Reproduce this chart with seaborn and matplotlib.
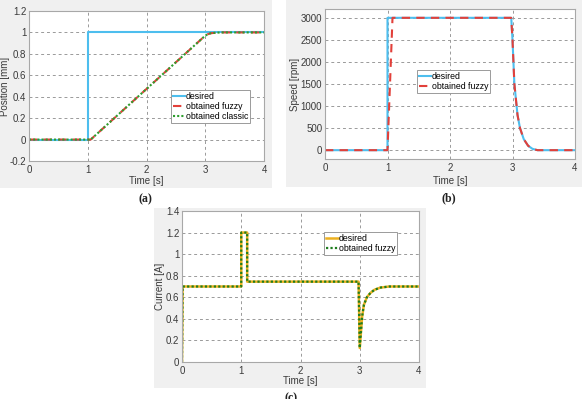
import matplotlib.pyplot as plt
from matplotlib.patches import Rectangle
import pandas as pd
import seaborn as sns

# panel (a) position
pos_t_desired = [0, 1.0, 1.0, 4.0]
pos_desired = [0, 0, 1, 1]
pos_t_obt = [0, 1.05, 3.0, 3.05, 3.1, 3.2, 3.3, 4.0]
pos_fuzzy = [0, 0, 0.97, 0.985, 0.993, 0.998, 1.0, 1.0]
pos_classic = [0, 0, 0.97, 0.985, 0.993, 0.998, 1.0, 1.0]

# panel (b) speed
spd_t_desired = [0, 1.0, 1.0, 2.98, 3.0, 3.03, 3.08, 3.12, 3.18, 3.25, 3.32, 3.4, 4.0]
spd_desired = [0, 0, 3000, 3000, 2500, 1500, 800, 500, 250, 100, 30, 0, 0]
spd_t_fuzzy = [0, 1.0, 1.08, 2.98, 3.0, 3.03, 3.08, 3.12, 3.18, 3.25, 3.32, 3.4, 4.0]
spd_fuzzy = [0, 0, 3000, 3000, 2500, 1500, 800, 500, 250, 100, 30, 0, 0]

# panel (c) current
cur_t = [0, 0.01, 1.0, 1.0, 1.1, 1.1, 2.98, 3.0, 3.04, 3.07, 3.12, 3.18, 3.25, 3.35, 3.5, 3.7, 4.0]
cur_desired = [0, 0.7, 0.7, 1.2, 1.2, 0.745, 0.745, 0.13, 0.42, 0.53, 0.6, 0.64, 0.67, 0.69, 0.70, 0.70, 0.70]
cur_fuzzy = [0, 0.7, 0.7, 1.2, 1.2, 0.745, 0.745, 0.13, 0.42, 0.53, 0.6, 0.64, 0.67, 0.69, 0.70, 0.70, 0.70]

W, H = 582, 399
plt.rcParams['font.family'] = ['Liberation Sans', 'DejaVu Sans']
fig = plt.figure(figsize=(W / 100, H / 100), dpi=100)
fig.patch.set_facecolor('white')

BLUE = '#4DBEEE'
RED = '#E2403A'
GREEN = '#2E9E2E'
ORANGE = '#EDB120'
DGREEN = '#1E7D1E'
TXT = '#3a3a3a'
FS = 7


def panel(bg, box, ylab_x, xlab_y):
    x0, y0, x1, y1 = bg
    fig.patches.append(Rectangle((x0 / W, 1 - y1 / H), (x1 - x0) / W, (y1 - y0) / H,
                                 transform=fig.transFigure, facecolor='#F0F0F0',
                                 edgecolor='none', zorder=-10))
    l, t, r, b = box
    ax = fig.add_axes([l / W, 1 - b / H, (r - l) / W, (b - t) / H])
    ax.set_facecolor('white')
    ax.grid(True, color='#9a9a9a', linestyle=(0, (3, 3)), linewidth=0.7)
    ax.set_axisbelow(True)
    for s in ax.spines.values():
        s.set_color('#a8a8a8')
        s.set_linewidth(0.8)
    ax.tick_params(labelsize=FS, colors=TXT, length=0)
    ax.tick_params(axis='x', pad=3)
    ax.tick_params(axis='y', pad=2)
    ax.set_xlim(0, 4)
    ax.set_xticks([0, 1, 2, 3, 4])
    ax.set_xlabel('Time [s]', fontsize=FS, color=TXT)
    ax.xaxis.set_label_coords(0.5, (b - xlab_y) / (b - t))
    ax.xaxis.label.set_va('center')
    ax.yaxis.set_label_coords((ylab_x - l) / (r - l), 0.5)
    ax.yaxis.label.set_va('center')
    return ax


def line(ax, t, y, **kw):
    df = pd.DataFrame({'t': t, 'y': y})
    sns.lineplot(data=df, x='t', y='y', ax=ax, estimator=None, sort=False, **kw)


def legend(ax, x, y):
    ax.legend(loc='lower left', bbox_to_anchor=(x, y), fontsize=6.3, handlelength=1.4,
              handletextpad=0.1, borderpad=0.2, labelspacing=0.15, fancybox=False,
              framealpha=1, edgecolor='#9a9a9a', borderaxespad=0)
    ax.get_legend().get_frame().set_linewidth(0.7)


# (a)
ax1 = panel((0, 0, 272, 188), (29, 11, 264, 161), 5, 181)
line(ax1, pos_t_desired, pos_desired, color=BLUE, lw=1.5, label='desired')
line(ax1, pos_t_obt, pos_fuzzy, color=RED, lw=1.5, linestyle=(0, (4, 3)), label='obtained fuzzy')
line(ax1, pos_t_obt, pos_classic, color=GREEN, lw=1.5, linestyle=(0, (1, 1)), label='obtained classic')
ax1.set_ylim(-0.2, 1.2)
ax1.set_yticks([-0.2, 0, 0.2, 0.4, 0.6, 0.8, 1, 1.2])
ax1.set_yticklabels(['-0.2', '0', '0.2', '0.4', '0.6', '0.8', '1', '1.2'])
ax1.set_ylabel('Position [mm]', fontsize=FS, color=TXT)
legend(ax1, 0.604, 0.253)

# (b)
ax2 = panel((286, 0, 582, 187), (325, 9, 575, 159), 295, 181)
line(ax2, spd_t_desired, spd_desired, color=BLUE, lw=1.5, label='desired')
line(ax2, spd_t_fuzzy, spd_fuzzy, color=RED, lw=1.5, linestyle=(0, (4, 3)), label='obtained fuzzy')
ax2.set_ylim(-200, 3200)
ax2.set_yticks(range(0, 3001, 500))
ax2.set_ylabel('Speed [rpm]', fontsize=FS, color=TXT)
legend(ax2, 0.368, 0.44)

# (c)
ax3 = panel((154, 208, 426, 388), (182, 211, 419, 362), 160, 381)
line(ax3, cur_t, cur_desired, color=ORANGE, lw=1.8, label='desired')
line(ax3, cur_t, cur_fuzzy, color=DGREEN, lw=1.6, linestyle=(0, (1, 1)), label='obtained fuzzy')
ax3.set_ylim(0, 1.4)
ax3.set_yticks([0, 0.2, 0.4, 0.6, 0.8, 1, 1.2, 1.4])
ax3.set_yticklabels(['0', '0.2', '0.4', '0.6', '0.8', '1', '1.2', '1.4'])
ax3.set_ylabel('Current [A]', fontsize=FS, color=TXT)
legend(ax3, 0.599, 0.709)

for txt, x, y in [('(a)', 145, 199), ('(b)', 449, 198), ('(c)', 291, 398)]:
    fig.text(x / W, 1 - y / H, txt, ha='center', va='center', fontsize=8.5,
             fontweight='bold', color='#222222', family=['Liberation Serif', 'DejaVu Serif'])

fig.savefig('out.png', dpi=100)
